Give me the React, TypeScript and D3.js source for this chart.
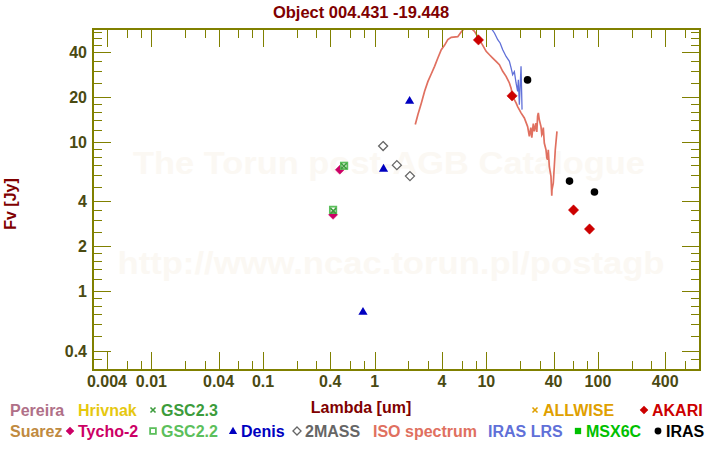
import React, { useEffect, useRef } from "react";
import * as d3 from "d3";

const chartTitle = "Object 004.431 -19.448";
const xTitle = "Lambda [um]";
const yTitle = "Fv [Jy]";

const xTickValues = [0.004, 0.01, 0.04, 0.1, 0.4, 1, 4, 10, 40, 100, 400];
const xTickLabels = ["0.004", "0.01", "0.04", "0.1", "0.4", "1", "4", "10", "40", "100", "400"];
const xMinorTicks = [
  0.006, 0.008, 0.02, 0.03, 0.06, 0.08, 0.2, 0.3, 0.6, 0.8, 2, 3, 6, 8, 20, 30, 60, 80, 200, 300, 600, 800,
];
const yTickValues = [0.4, 1, 2, 4, 10, 20, 40];
const yTickLabels = ["0.4", "1", "2", "4", "10", "20", "40"];
const yMinorTicks = [
  0.35, 0.5, 0.6, 0.7, 0.8, 0.9, 1.2, 1.4, 1.6, 1.8, 2.5, 3, 3.5, 5, 6, 7, 8, 9, 12, 14, 16, 18, 25, 30, 35, 45, 50, 55,
];

// photometry [lambda um, flux Jy]
const tycho2: [number, number][] = [[0.424, 3.25], [0.487, 6.52]];
const gsc22: [number, number][] = [[0.424, 3.51], [0.532, 6.93]];
const gsc23: [number, number][] = [[0.426, 3.45], [0.53, 6.9]];
const denis: [number, number][] = [[0.786, 0.73], [1.2, 6.65], [2.055, 19.0]];
const twoMass: [number, number][] = [[1.19, 9.4], [1.58, 7.0], [2.07, 5.91]];
const akari: [number, number][] = [[8.5, 48.4], [17.0, 20.4], [60.4, 3.5], [84, 2.61]];
const iras: [number, number][] = [[23.4, 26.1], [55.6, 5.47], [93, 4.62]];

const isoSpectrum: [number, number][] = [
  [2.31, 13.1], [2.44, 15.3], [2.62, 18.3], [2.8, 21.9], [3.0, 25.5], [3.21, 28.6], [3.44, 32.2],
  [3.68, 36.6], [3.95, 41.6], [4.22, 44.5], [4.52, 48.6], [4.85, 50.4], [5.55, 50.9], [5.95, 54.7],
  [6.37, 58], [7.31, 58], [7.83, 55.3], [8.68, 48.6], [9.29, 44.5], [9.96, 40.6], [10.66, 38.5],
  [11.41, 36.6], [12.23, 34.8], [13.09, 33.0], [14.02, 29.8], [15.03, 27.6], [16.09, 24.9],
  [16.66, 23.0], [17.21, 20.2], [18.46, 18.3], [19.08, 17.3], [20.46, 15.7], [21.9, 14.5],
  [23.44, 12.7], [24.28, 10.9], [25.03, 12.5], [25.55, 10.7], [25.98, 12.1], [26.36, 13.3],
  [26.9, 11.8], [27.86, 13.4], [28.33, 11.7], [28.8, 14.9], [29.22, 15.7], [29.82, 14.1],
  [30.88, 12.7], [31.4, 11.2], [31.92, 11.5], [32.38, 12.5], [33.05, 9.85], [34.22, 8.88],
  [34.8, 7.85], [35.37, 7.61], [35.89, 8.88], [36.64, 6.86], [37.94, 5.88], [38.57, 4.36],
  [38.73, 4.79], [39.79, 5.31], [40.62, 6.86], [41.46, 8.88], [42.94, 11.8],
];

const irasLrs: [number, number][] = [
  [11.04, 58], [11.82, 53.9], [12.65, 48.6], [13.29, 46.2], [14.02, 41.6], [15.03, 37.5],
  [16.09, 34.8], [16.66, 31.4], [17.21, 28.3], [17.83, 29.6], [18.46, 24.9], [19.08, 21.9],
  [19.36, 26.2], [19.76, 17.8], [20.46, 32.2], [20.89, 16.5],
];

// legend entries: label, colour, symbol
const legendRow1 = [
  { label: "Pereira", color: "#b07088", symbol: "" },
  { label: "Hrivnak", color: "#e6c810", symbol: "" },
  { label: "GSC2.3", color: "#3c9c3c", symbol: "cross" },
  { label: "ALLWISE", color: "#e0a000", symbol: "cross" },
  { label: "AKARI", color: "#cc0000", symbol: "diamond" },
];
const legendRow2 = [
  { label: "Suarez", color: "#c08a40", symbol: "" },
  { label: "Tycho-2", color: "#cc0066", symbol: "diamond" },
  { label: "GSC2.2", color: "#5cbf5c", symbol: "square-open" },
  { label: "Denis", color: "#0000c0", symbol: "triangle" },
  { label: "2MASS", color: "#666666", symbol: "diamond-open" },
  { label: "ISO spectrum", color: "#e07060", symbol: "" },
  { label: "IRAS LRS", color: "#6070d8", symbol: "" },
  { label: "MSX6C", color: "#00c000", symbol: "square" },
  { label: "IRAS", color: "#000000", symbol: "circle" },
];
// x start of each legend text (symbol sits left of it)
const legendX1 = [10, 78, 161, 543, 652];
const legendX2 = [10, 78, 161, 241, 305, 373, 488, 586, 666];

const W = 720;
const H = 450;
const plot = { left: 93, right: 700, top: 29, bottom: 370 };
const FONT = "'Liberation Sans', Arial, sans-serif";
const AXIS = "#808000";
const LABEL = "#4a4a12";
const DARKRED = "#800000";

type Sel = d3.Selection<SVGGElement, unknown, null, undefined>;

function drawSymbol(g: Sel, kind: string, cx: number, cy: number, color: string, s = 1) {
  if (kind === "diamond" || kind === "diamond-open") {
    const r = 4.5 * s;
    g.append("path")
      .attr("d", `M${cx},${cy - r}L${cx + r},${cy}L${cx},${cy + r}L${cx - r},${cy}Z`)
      .attr("fill", kind === "diamond" ? color : "white")
      .attr("stroke", color)
      .attr("stroke-width", kind === "diamond" ? 0.5 : 1.3);
  } else if (kind === "triangle") {
    const r = 4.6 * s;
    g.append("path")
      .attr("d", `M${cx},${cy - r}L${cx + r},${cy + r * 0.7}L${cx - r},${cy + r * 0.7}Z`)
      .attr("fill", color);
  } else if (kind === "circle") {
    g.append("circle").attr("cx", cx).attr("cy", cy).attr("r", 3.8 * s).attr("fill", color);
  } else if (kind === "square") {
    const r = 3.5 * s;
    g.append("rect").attr("x", cx - r).attr("y", cy - r).attr("width", 2 * r).attr("height", 2 * r).attr("fill", color);
  } else if (kind === "square-open") {
    const r = 3.2 * s;
    g.append("rect")
      .attr("x", cx - r).attr("y", cy - r).attr("width", 2 * r).attr("height", 2 * r)
      .attr("fill", "none").attr("stroke", color).attr("stroke-width", 1.8);
  } else if (kind === "cross") {
    const r = 2.8 * s;
    g.append("path")
      .attr("d", `M${cx - r},${cy - r}L${cx + r},${cy + r}M${cx - r},${cy + r}L${cx + r},${cy - r}`)
      .attr("stroke", color).attr("stroke-width", 1.6);
  }
}

const App: React.FC = () => {
  const svgRef = useRef<SVGSVGElement | null>(null);

  useEffect(() => {
    if (!svgRef.current) return;
    const svg = d3.select(svgRef.current);
    svg.selectAll("*").remove();

    const x = d3.scaleLog().domain([0.003, 820]).range([plot.left, plot.right]);
    const y = d3.scaleLog().domain([0.296, 57.3]).range([plot.bottom, plot.top]);

    svg.append("rect").attr("width", W).attr("height", H).attr("fill", "white");

    // watermark
    const wm = svg.append("g").attr("font-family", FONT).attr("font-weight", "bold").attr("fill", "#fbf8f3");
    wm.append("text").attr("x", 389).attr("y", 174).attr("text-anchor", "middle").attr("font-size", 31)
      .attr("textLength", 512).attr("lengthAdjust", "spacingAndGlyphs").text("The Torun post-AGB Catalogue");
    wm.append("text").attr("x", 391).attr("y", 274).attr("text-anchor", "middle").attr("font-size", 31)
      .attr("textLength", 547).attr("lengthAdjust", "spacingAndGlyphs").text("http://www.ncac.torun.pl/postagb");

    svg.append("defs").append("clipPath").attr("id", "plotclip").append("rect")
      .attr("x", plot.left).attr("y", plot.top)
      .attr("width", plot.right - plot.left).attr("height", plot.bottom - plot.top);

    const line = d3.line<[number, number]>().x((d) => x(d[0])).y((d) => y(d[1]));
    const lines = svg.append("g").attr("clip-path", "url(#plotclip)");
    lines.append("path").datum(isoSpectrum).attr("d", line).attr("fill", "none")
      .attr("stroke", "#e07060").attr("stroke-width", 1.7);
    lines.append("path").datum(irasLrs).attr("d", line).attr("fill", "none")
      .attr("stroke", "#6070d8").attr("stroke-width", 1.3);

    // frame + ticks
    const ax = svg.append("g").attr("stroke", AXIS);
    ax.append("rect").attr("x", plot.left).attr("y", plot.top)
      .attr("width", plot.right - plot.left).attr("height", plot.bottom - plot.top)
      .attr("fill", "none").attr("stroke-width", 2);
    const xt = [...xTickValues.map((v) => [v, 18]), ...xMinorTicks.map((v) => [v, 9])];
    xt.forEach(([v, len]) => {
      const px = Math.round(x(v)) + 0.5;
      ax.append("line").attr("x1", px).attr("x2", px).attr("y1", plot.top).attr("y2", plot.top + len);
      ax.append("line").attr("x1", px).attr("x2", px).attr("y1", plot.bottom).attr("y2", plot.bottom - len);
    });
    const yt = [...yTickValues.map((v) => [v, 18]), ...yMinorTicks.map((v) => [v, 9])];
    yt.forEach(([v, len]) => {
      const py = Math.round(y(v)) + 0.5;
      ax.append("line").attr("y1", py).attr("y2", py).attr("x1", plot.left).attr("x2", plot.left + len);
      ax.append("line").attr("y1", py).attr("y2", py).attr("x1", plot.right).attr("x2", plot.right - len);
    });

    const txt = svg.append("g").attr("font-family", FONT).attr("font-weight", "bold").attr("font-size", 16);
    xTickValues.forEach((v, i) => {
      txt.append("text").attr("x", x(v)).attr("y", 387).attr("text-anchor", "middle")
        .attr("fill", LABEL).text(xTickLabels[i]);
    });
    yTickValues.forEach((v, i) => {
      txt.append("text").attr("x", 87).attr("y", y(v) + 6).attr("text-anchor", "end")
        .attr("fill", LABEL).text(yTickLabels[i]);
    });
    txt.append("text").attr("x", 361).attr("y", 18).attr("text-anchor", "middle").attr("font-size", 16.5)
      .attr("fill", DARKRED).text(chartTitle);
    txt.append("text").attr("x", 361).attr("y", 413).attr("text-anchor", "middle")
      .attr("fill", DARKRED).text(xTitle);
    txt.append("text").attr("transform", "translate(16,204) rotate(-90)").attr("text-anchor", "middle")
      .attr("fill", DARKRED).text(yTitle);

    // points
    const pts = svg.append("g");
    const series: [[number, number][], string, string][] = [
      [tycho2, "diamond", "#cc0066"],
      [gsc22, "square-open", "#5cbf5c"],
      [gsc23, "cross", "#3c9c3c"],
      [denis, "triangle", "#0000c0"],
      [twoMass, "diamond-open", "#666666"],
      [iras, "circle", "#000000"],
      [akari, "diamond", "#cc0000"],
    ];
    series.forEach(([data, kind, color]) => {
      data.forEach((d) => drawSymbol(pts, kind, x(d[0]), y(d[1]), color, kind === "diamond" && color === "#cc0000" ? 1.15 : 1));
    });

    // legend
    const lg = svg.append("g");
    const rows: [typeof legendRow1, number[], number][] = [
      [legendRow1, legendX1, 416],
      [legendRow2, legendX2, 437],
    ];
    rows.forEach(([entries, xs, by]) => {
      entries.forEach((e, i) => {
        if (e.symbol) drawSymbol(lg, e.symbol, xs[i] - 8, by - 6, e.color, 0.9);
        lg.append("text").attr("x", xs[i]).attr("y", by).attr("font-family", FONT)
          .attr("font-weight", "bold").attr("font-size", 16).attr("fill", e.color).text(e.label);
      });
    });
  }, []);

  return (
    <svg
      ref={svgRef}
      width={W}
      height={H}
      style={{ position: "absolute", left: 0, top: 0 }}
    ></svg>
  );
};

export default App;
